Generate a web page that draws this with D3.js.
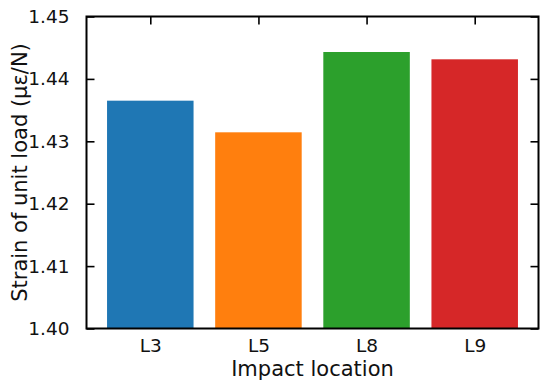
<!DOCTYPE html>
<html>
<head>
<meta charset="utf-8">
<script src="https://cdn.jsdelivr.net/npm/d3@7"></script>
<style>
body { margin: 0; background: #fff; }
text { font-family: "DejaVu Sans", sans-serif; fill: #111; }
</style>
</head>
<body>
<svg id="chart" width="550" height="391"></svg>
<script>
const locations = ["L3", "L5", "L8", "L9"];
const strainValues = [1.43651, 1.43144, 1.44431, 1.44314];
const barColors = ["#1f77b4", "#ff7f0e", "#2ca02c", "#d62728"];
const yTicks = [1.40, 1.41, 1.42, 1.43, 1.44, 1.45];

const margin = {top: 16.5, right: 11.5, bottom: 62.5, left: 86.5};
const width = 550 - margin.left - margin.right;
const height = 391 - margin.top - margin.bottom;
const tickLen = 8;

const svg = d3.select("#chart");
const g = svg.append("g")
	.attr("transform", "translate(" + margin.left + "," + margin.top + ")");

// matplotlib style: bar width 0.8, 5% margins
const xScale = d3.scaleLinear()
	.domain([-0.59, locations.length - 1 + 0.59])
	.range([0, width]);

const yScale = d3.scaleLinear()
	.domain([1.40, 1.45])
	.range([height, 0]);

const barW = xScale(0.8) - xScale(0);

g.selectAll("rect.bar")
	.data(strainValues)
	.enter().append("rect")
	.attr("class", "bar")
	.attr("x", (d, i) => xScale(i) - barW / 2)
	.attr("y", d => yScale(d))
	.attr("width", barW)
	.attr("height", d => yScale(1.40) - yScale(d))
	.attr("fill", (d, i) => barColors[i]);

// left axis, ticks inward
const yAxis = d3.axisLeft(yScale)
	.tickValues(yTicks)
	.tickFormat(d3.format(".2f"))
	.tickSizeInner(-tickLen)
	.tickSizeOuter(0)
	.tickPadding(tickLen + 9);

const yG = g.append("g").call(yAxis);
yG.select(".domain").remove();
yG.selectAll(".tick line").attr("stroke", "#000").attr("stroke-width", 1.6);
yG.selectAll(".tick text").attr("font-size", "18.5px").attr("fill", "#111");

// right axis ticks
const yRight = d3.axisRight(yScale)
	.tickValues(yTicks)
	.tickFormat("")
	.tickSizeInner(-tickLen)
	.tickSizeOuter(0);
const yRG = g.append("g").attr("transform", "translate(" + width + ",0)").call(yRight);
yRG.select(".domain").remove();
yRG.selectAll(".tick line").attr("stroke", "#000").attr("stroke-width", 1.6);

// bottom axis labels
const xAxis = d3.axisBottom(xScale)
	.tickValues(d3.range(locations.length))
	.tickFormat(i => locations[i])
	.tickSize(0)
	.tickPadding(10);
const xG = g.append("g").attr("transform", "translate(0," + height + ")").call(xAxis);
xG.select(".domain").remove();
xG.selectAll(".tick text").attr("font-size", "18.5px").attr("fill", "#111");

// top ticks inward
const xTop = d3.axisTop(xScale)
	.tickValues(d3.range(locations.length))
	.tickFormat("")
	.tickSizeInner(-tickLen)
	.tickSizeOuter(0);
const xTG = g.append("g").call(xTop);
xTG.select(".domain").remove();
xTG.selectAll(".tick line").attr("stroke", "#000").attr("stroke-width", 1.6);

// frame
g.append("rect")
	.attr("x", 0).attr("y", 0)
	.attr("width", width).attr("height", height)
	.attr("fill", "none")
	.attr("stroke", "#000")
	.attr("stroke-width", 2);

svg.append("text")
	.attr("x", margin.left + width / 2)
	.attr("y", 376)
	.attr("text-anchor", "middle")
	.style("font-size", "21px")
	.text("Impact location");

svg.append("text")
	.attr("transform", "translate(27," + (margin.top + height / 2) + ") rotate(-90)")
	.attr("text-anchor", "middle")
	.style("font-size", "21px")
	.text("Strain of unit load (με/N)");
</script>
</body>
</html>
